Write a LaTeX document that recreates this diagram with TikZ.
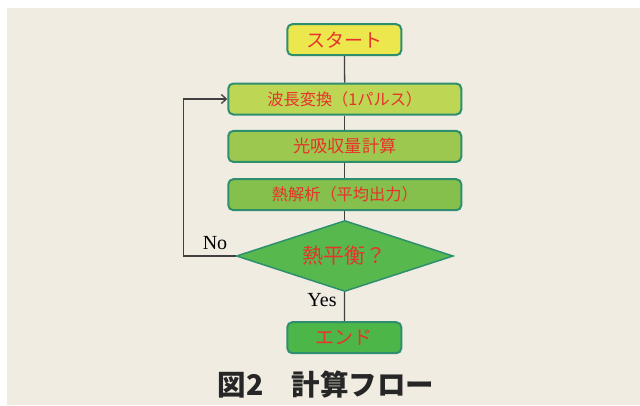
\documentclass[tikz,border=0pt]{standalone}
\usepackage{fontspec}
\setmainfont{Liberation Serif}
\newfontfamily\cjk{Noto Sans CJK JP}
\usetikzlibrary{shapes.geometric,arrows.meta}
\definecolor{bg}{HTML}{F0ECE2}
\definecolor{edge}{HTML}{2E8F6E}
\definecolor{redtxt}{HTML}{E8322B}
\definecolor{cstart}{HTML}{ECE74C}
\definecolor{cone}{HTML}{BDD755}
\definecolor{ctwo}{HTML}{9CC84F}
\definecolor{cthree}{HTML}{84C04B}
\definecolor{cdia}{HTML}{57B84E}
\definecolor{cend}{HTML}{4DB648}
\definecolor{conn}{HTML}{404040}
\tikzset{
  box/.style={draw=edge, line width=2pt, rounded corners=5pt, inner sep=0pt,
    minimum width=233pt, minimum height=31pt, text=redtxt,
    font=\cjk\fontsize{16.2}{16}\selectfont},
  termbox/.style={box, minimum width=114pt, font=\cjk\fontsize{19}{19}\selectfont},
  decision/.style={diamond, draw=edge, line width=1.5pt, inner sep=0pt, aspect=3,
    minimum width=217pt, minimum height=71pt, text=redtxt,
    font=\cjk\fontsize{21}{21}\selectfont},
  conline/.style={draw=conn, line width=1.3pt},
  lbl/.style={font=\fontsize{20}{20}\selectfont, text=black, inner sep=0pt}
}
\begin{document}
\begin{tikzpicture}[x=1pt,y=-1pt]
\useasboundingbox (0,0) rectangle (640,405);
\fill[white] (0,0) rectangle (640,405);
\fill[bg] (7,7.5) rectangle (640,405);

\node[termbox, fill=cstart] (start) at (344.3,39.7) {スタート};
\node[box, fill=cone] (b1) at (344.8,99) {波長変換（1パルス）};
\node[box, fill=ctwo, font=\cjk\fontsize{17.2}{17}\selectfont] (b2) at (344.8,146.4) {光吸収量計算};
\node[box, fill=cthree] (b3) at (344.8,194.7) {熱解析（平均出力）};
\node[decision, fill=cdia] (dia) at (344.8,256) {熱平衡？};
\node[termbox, fill=cend] (end) at (344.3,337.7) {エンド};

\draw[conline] (start) -- (b1);
\draw[conline] (b1) -- (b2);
\draw[conline] (b2) -- (b3);
\draw[conline] (b3) -- (dia);
\draw[conline] (dia) -- (end);
\coordinate (loop) at (183.3,256);
\draw[conline, -{Straight Barb[length=5pt,width=9pt]}] (dia.west) -- (loop) |- (b1.west);

\node[lbl] (no) at (215,243) {No};
\node[lbl] (yes) at (322,300.5) {Yes};

\node[font=\cjk\bfseries\fontsize{28.5}{28}\selectfont, text=black!85, inner sep=0pt] (cap) at (326,385) {図2　計算フロー};
\end{tikzpicture}
\end{document}
